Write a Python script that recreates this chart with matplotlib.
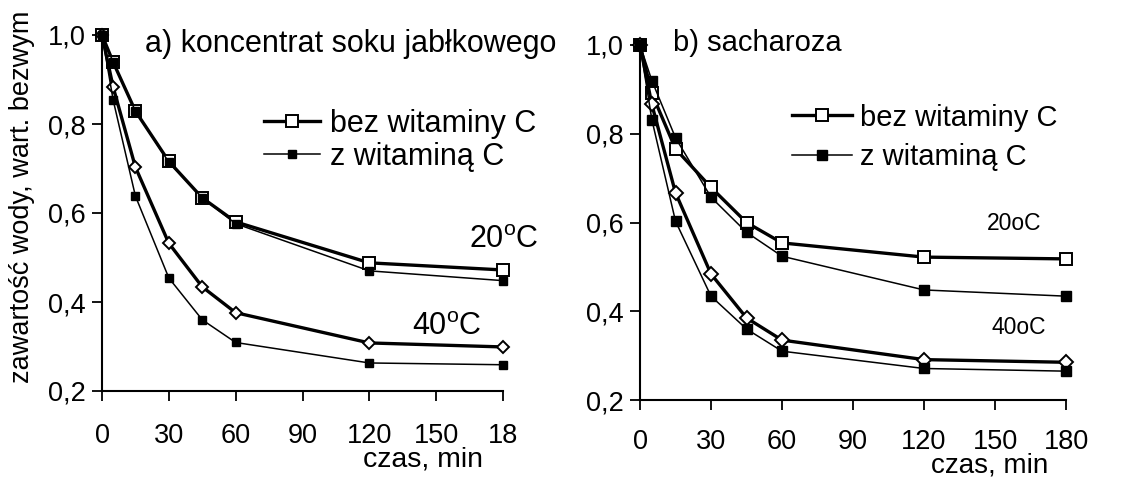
import matplotlib
matplotlib.use('Agg')
import matplotlib.pyplot as plt
import numpy as np

plt.rcParams['font.family'] = ['Liberation Sans', 'DejaVu Sans']
plt.rcParams['mathtext.fontset'] = 'custom'
plt.rcParams['mathtext.rm'] = 'Liberation Sans'

# czas, min
czas = [0, 5, 15, 30, 45, 60, 120, 180]

# a) koncentrat soku jablkowego
a_bez_20 = [1.0, 0.939, 0.829, 0.716, 0.634, 0.580, 0.488, 0.472]
a_z_20 = [1.0, 0.939, 0.829, 0.714, 0.634, 0.576, 0.470, 0.448]
a_bez_40 = [1.0, 0.883, 0.703, 0.532, 0.434, 0.376, 0.308, 0.299]
a_z_40 = [1.0, 0.854, 0.638, 0.454, 0.360, 0.309, 0.263, 0.259]

# b) sacharoza
b_bez_20 = [1.0, 0.891, 0.766, 0.679, 0.600, 0.554, 0.522, 0.518]
b_z_20 = [1.0, 0.920, 0.791, 0.657, 0.578, 0.524, 0.448, 0.434]
b_bez_40 = [1.0, 0.866, 0.667, 0.484, 0.385, 0.335, 0.291, 0.285]
b_z_40 = [1.0, 0.832, 0.603, 0.434, 0.360, 0.310, 0.271, 0.265]

xticks = [0, 30, 60, 90, 120, 150, 180]
xlabels_a = ['0', '30', '60', '90', '120', '150', '18']
xlabels_b = ['0', '30', '60', '90', '120', '150', '180']
yticks = [0.2, 0.4, 0.6, 0.8, 1.0]
ylabels = ['0,2', '0,4', '0,6', '0,8', '1,0']

W, H = 1124, 478
fig = plt.figure(figsize=(W / 100, H / 100), dpi=100)

def px(x0, y0, x1, y1):
    return [x0 / W, 1 - y1 / H, (x1 - x0) / W, (y1 - y0) / H]

ax1 = fig.add_axes(px(102, 35, 503, 391))
ax2 = fig.add_axes(px(640, 45, 1066, 400))

def style(ax, xl, fs, xpad):
    ax.set_xlim(0, 180)
    ax.set_ylim(0.2, 1.0)
    for s in ['top', 'right']:
        ax.spines[s].set_visible(False)
    for s in ['left', 'bottom']:
        ax.spines[s].set_linewidth(1.5)
    ax.set_xticks(xticks)
    ax.set_xticklabels(xl)
    ax.set_yticks(yticks)
    ax.set_yticklabels(ylabels)
    ax.tick_params(axis='x', direction='out', length=7, width=1.3, pad=xpad, labelsize=fs)
    ax.tick_params(axis='y', direction='out', length=7, width=1.3, pad=5, labelsize=fs)

def draw(ax, bez20, z20, bez40, z40, ms_sq, ms_z, ms_d):
    l1, = ax.plot(czas, bez20, color='black', lw=2.4, marker='s', ms=ms_sq,
                  mfc='white', mec='black', mew=1.4, clip_on=False, zorder=3)
    l2, = ax.plot(czas, z20, color='black', lw=1.1, marker='s', ms=ms_z,
                  mfc='black', mec='black', clip_on=False, zorder=4)
    ax.plot(czas, bez40, color='black', lw=2.4, marker='D', ms=ms_d,
            mfc='white', mec='black', mew=1.4, clip_on=False, zorder=3)
    ax.plot(czas, z40, color='black', lw=1.1, marker='s', ms=ms_z,
            mfc='black', mec='black', clip_on=False, zorder=4)
    return l1, l2

style(ax1, xlabels_a, 19.5, 16)
h1 = draw(ax1, a_bez_20, a_z_20, a_bez_40, a_z_40, 8, 5.2, 6.5)
ax1.text(19.3, 0.98, 'a) koncentrat soku jabłkowego', fontsize=22, va='center', ha='left')
ax1.text(196, 0.539, '20$^{\\mathregular{o}}$C', fontsize=22, va='center', ha='right')
ax1.text(170.6, 0.344, '40$^{\\mathregular{o}}$C', fontsize=22, va='center', ha='right')
ax1.legend(h1, ['bez witaminy C', 'z witaminą C'], loc='upper left',
           bbox_to_anchor=(0.365, 0.835), frameon=False, fontsize=22,
           handlelength=1.83, handletextpad=0.33, labelspacing=0.1, borderpad=0)

style(ax2, xlabels_b, 19.5, 14)
h2 = draw(ax2, b_bez_20, b_z_20, b_bez_40, b_z_40, 9, 6.5, 7)
ax2.text(13.9, 1.005, 'b) sacharoza', fontsize=21, va='center', ha='left')
ax2.text(146.6, 0.597, '20oC', fontsize=16.5, va='center', ha='left')
ax2.text(148.7, 0.364, '40oC', fontsize=16.5, va='center', ha='left')
ax2.legend(h2, ['bez witaminy C', 'z witaminą C'], loc='upper left',
           bbox_to_anchor=(0.322, 0.876), frameon=False, fontsize=21,
           handlelength=2.05, handletextpad=0.3, labelspacing=0.4, borderpad=0)

fig.text(22 / W, 1 - 383 / H, 'zawartość wody, wart. bezwym', rotation=90,
         fontsize=19.5, ha='center', va='bottom')
fig.text(483 / W, 1 - 460 / H, 'czas, min', fontsize=20.5, ha='right', va='center')
fig.text(1048 / W, 1 - 466 / H, 'czas, min', fontsize=20, ha='right', va='center')

fig.savefig('out.png', dpi=100)
